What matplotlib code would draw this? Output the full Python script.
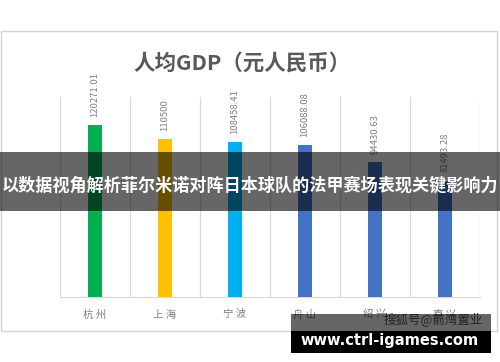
import matplotlib
matplotlib.use("Agg")
import matplotlib.pyplot as plt
from matplotlib.patches import Rectangle

plt.rcParams['font.family'] = ['Noto Sans CJK SC', 'DejaVu Sans']

# data
cities = ["杭 州", "上 海", "宁 波", "舟 山", "绍 兴", "嘉 兴"]
gdp = [120271.01, 110500, 108458.41, 106088.08, 94430.63, 81493.28]
value_labels = ["120271.01", "110500", "108458.41", "106088.08", "94430.63", "81493.28"]
bar_colors = ["#00B050", "#FFC000", "#00B0F0", "#4472C4", "#4472C4", "#4472C4"]

W, H = 500, 362
fig = plt.figure(figsize=(W / 100, H / 100), dpi=100)
fig.patch.set_facecolor("white")

def px(x, y, w, h):
    # pixel box (top-left origin) -> figure fraction
    return [x / W, 1 - (y + h) / H, w / W, h / H]

# outer frame of the screenshot chart
fig.patches.append(Rectangle((1 / W, 1 - 331 / H), 496 / W, 300 / H,
                             transform=fig.transFigure, fill=False,
                             edgecolor="#D4D4D4", linewidth=1))

fig.text(242 / W, 1 - 63 / H, "人均GDP（元人民币）", ha="center", va="center",
         fontsize=15.5, fontweight="bold", color="#595959")

ax = fig.add_axes(px(60, 97, 420, 200))
x = list(range(len(cities)))
ax.bar(x, gdp, width=0.19, color=bar_colors, zorder=3)
for xi, v, lab in zip(x, gdp, value_labels):
    ax.annotate(lab, (xi, v), xytext=(0, 6), textcoords="offset points",
                rotation=90, ha="center", va="bottom", fontsize=6.8,
                color="#808080")

ax.set_xlim(-0.5, len(cities) - 0.5)
ax.set_ylim(0, 140000)
for b in [i - 0.5 for i in range(len(cities) + 1)]:
    ax.axvline(b, color="#D9D9D9", linewidth=0.9, zorder=1)
for s in ["top", "left", "right"]:
    ax.spines[s].set_visible(False)
ax.spines["bottom"].set_color("#D9D9D9")
ax.set_yticks([])
ax.set_xticks(x)
ax.set_xticklabels(cities, fontsize=7.5, color="#808080")
ax.tick_params(axis="x", length=0, pad=9)

# overlay banner across the middle
fig.patches.append(Rectangle((0, 1 - 211 / H), 1, 59 / H, transform=fig.transFigure,
                             facecolor="black", alpha=0.6, edgecolor="none", zorder=10))
fig.text(250 / W, 1 - 186 / H, "以数据视角解析菲尔米诺对阵日本球队的法甲赛场表现关键影响力",
         ha="center", va="center", fontsize=12.3, fontweight="bold", color="white", zorder=11)

# watermark box at the bottom right
fig.patches.append(Rectangle((291 / W, 1 - 331 / H), 200 / W, 17 / H, transform=fig.transFigure,
                             facecolor="black", alpha=0.6, edgecolor="none", zorder=10))
fig.text(433 / W, 1 - 319 / H, "搜狐号@前湾置业", ha="center", va="center",
         fontsize=9, color="#222222", zorder=11)
fig.patches.append(Rectangle((291 / W, 1 - 353 / H), 200 / W, 22 / H, transform=fig.transFigure,
                             facecolor="black", edgecolor="none", zorder=10))
fig.text(390 / W, 1 - 341 / H, "www.ctrl-igames.com", ha="center", va="center",
         fontsize=10.5, fontweight="bold", color="white", family="DejaVu Sans", zorder=11)

fig.savefig("out.png", dpi=100)
